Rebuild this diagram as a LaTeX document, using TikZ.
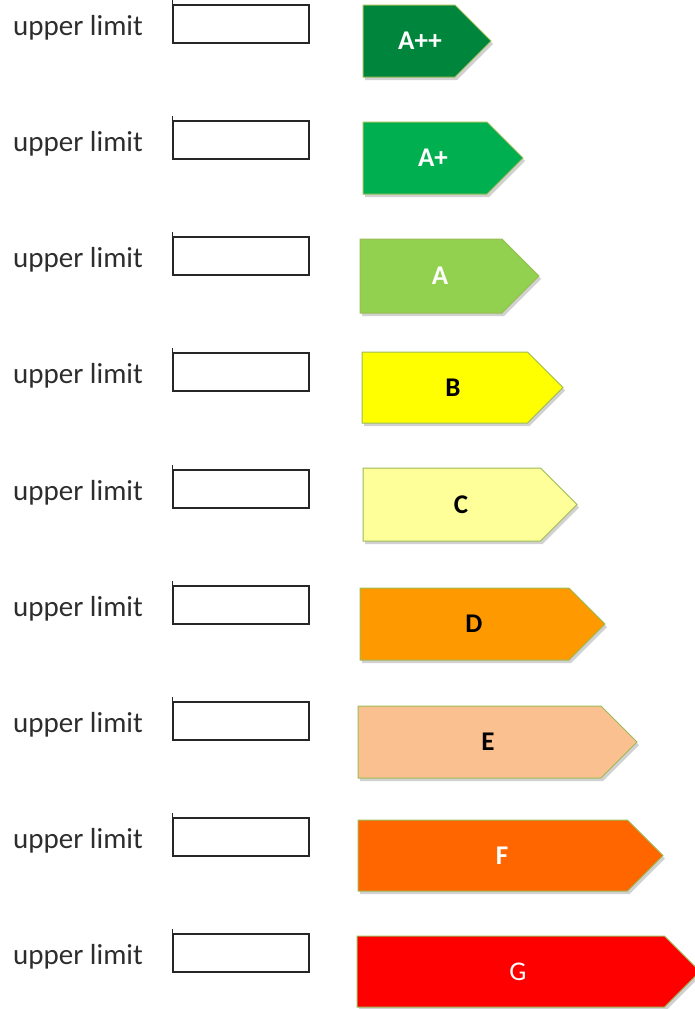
\documentclass[tikz,border=0pt]{standalone}
\usepackage{fontspec}
\setmainfont{Carlito}
\definecolor{barline}{RGB}{155,187,89}
\definecolor{cApp}{RGB}{0,133,60}
\definecolor{cAp}{RGB}{0,176,80}
\definecolor{cA}{RGB}{146,208,80}
\definecolor{cB}{RGB}{255,255,0}
\definecolor{cC}{RGB}{255,255,153}
\definecolor{cD}{RGB}{255,153,0}
\definecolor{cE}{RGB}{250,192,143}
\definecolor{cF}{RGB}{255,102,0}
\definecolor{cG}{RGB}{255,0,0}
\definecolor{lbltext}{RGB}{45,45,45}
\newcommand\earrow[9]{%
  \fill[black,opacity=0.18] (#2+2,#4+3) -- ({#3-(#5-#4)/2+2},#4+3) -- (#3+2,{(#4+#5)/2+3}) -- ({#3-(#5-#4)/2+2},#5+3) -- (#2+2,#5+3) -- cycle;
  \filldraw[fill=#6,draw=barline,line width=1] (#2,#4) -- ({#3-(#5-#4)/2},#4) -- (#3,{(#4+#5)/2}) -- ({#3-(#5-#4)/2},#5) -- (#2,#5) -- cycle;
  \node[cls,text=#7] (#1) at (#8,{(#4+#5)/2}) {#9};}
\begin{document}
\begin{tikzpicture}[x=1pt,y=-1pt,
  lbl/.style={anchor=base west,font=\fontsize{29}{32}\selectfont,text=lbltext,inner sep=0},
  valbox/.style={draw=black!85,line width=1.6,fill=white,minimum width=136,minimum height=38,inner sep=0},
  cls/.style={font=\fontsize{27}{30}\selectfont\bfseries,inner sep=0}]
\useasboundingbox (0,0) rectangle (695,1009);
\foreach \i/\r in {1/25,2/141,3/257,4/373,5/490,6/606,7/722,8/838,9/954}{
  \node[lbl] (t\i) at (13,\r+10) {upper limit};
  \node[valbox] (b\i) at (241,\r-1) {};
  \draw[black!85,line width=1.2] (b\i.north west) -- ++(0,-4);
}
\earrow{kApp}{363}{491}{5}{77}{cApp}{white}{420}{A++}
\earrow{kAp}{363}{523}{122}{194}{cAp}{white}{433}{A+}
\earrow{kA}{360}{539}{239}{313}{cA}{white}{440}{A}
\earrow{kB}{362}{563}{352}{423}{cB}{black}{453}{B}
\earrow{kC}{363}{577}{468}{541}{cC}{black}{461}{C}
\earrow{kD}{360}{605}{588}{660}{cD}{black}{474}{D}
\earrow{kE}{358}{637}{706}{778}{cE}{black}{488}{E}
\earrow{kF}{358}{663}{820}{891}{cF}{white}{502}{F}
\earrow{kG}{357}{700}{936}{1007}{cG}{white}{518}{\mdseries G}
\end{tikzpicture}
\end{document}
